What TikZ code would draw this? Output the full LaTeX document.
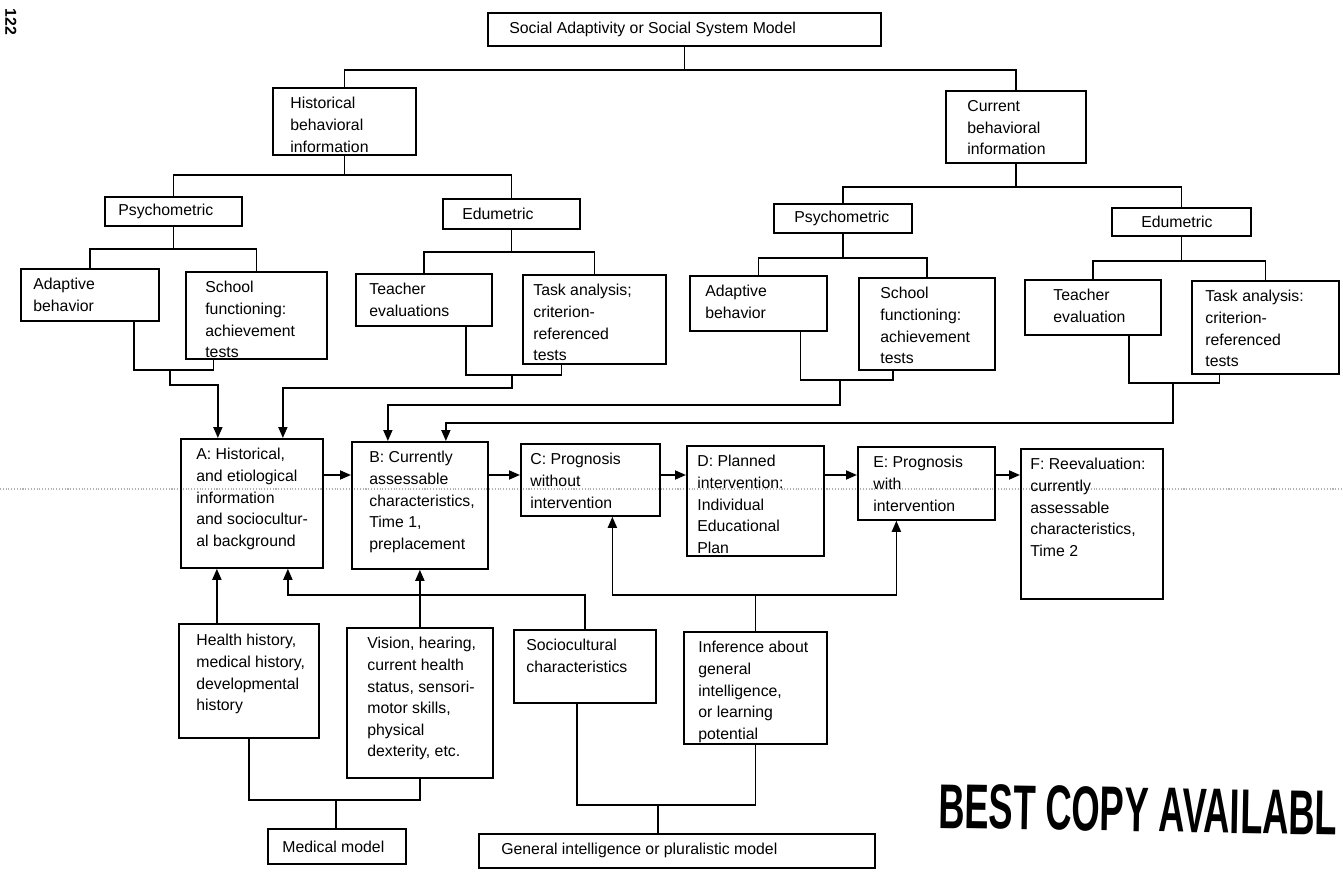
\documentclass[tikz,border=0pt]{standalone}
\usepackage{fontspec}
\setsansfont{Liberation Sans}
\usepackage{graphicx}
\usepackage{tikz}
\usetikzlibrary{arrows.meta,positioning,calc}
\tikzset{
  sabox/.style 2 args={draw=black, line width=1pt, anchor=north west, inner sep=0pt, minimum width=#1*0.02cm, minimum height=#2*0.02cm},
  satext/.style={anchor=north west, align=left, inner sep=0pt, font=\sffamily\fontsize{9}{12.3}\selectfont},
  saone/.style={anchor=west, inner sep=0pt, font=\sffamily\fontsize{9}{12.3}\selectfont},
  saline/.style={line width=1pt},
  saarrow/.style={-{Triangle[length=2.2mm,width=1.8mm]}, line width=1pt}
}

\begin{document}
\begin{tikzpicture}[x=0.02cm, y=-0.02cm]
  \useasboundingbox (0,0) rectangle (1343,879);

  % scan line across the page
  \draw[gray!60, densely dotted, line width=0.6pt] (0,489) -- (1343,489);

  % top of the tree
  \node[sabox={393}{33}] (model) at (487,12) {};
  \node[saone] (modelt) at ($(model.west)+(22,0)$) {Social Adaptivity or Social System Model};

  \node[sabox={143}{67}] (hist) at (272,87) {};
  \node[satext] (histt) at ($(hist.north west)+(18,10)$) {Historical\\behavioral\\information};
  \node[sabox={140}{72}] (curr) at (945,90) {};
  \node[satext] (currt) at ($(curr.north west)+(22,10)$) {Current\\behavioral\\information};

  \node[sabox={137}{29}] (hpsy) at (104,196) {};
  \node[saone] (hpsyt) at ($(hpsy.west)+(14,0)$) {Psychometric};
  \node[sabox={137}{30}] (hedu) at (442,198) {};
  \node[saone] (hedut) at ($(hedu.west)+(20,0)$) {Edumetric};
  \node[sabox={138}{29}] (cpsy) at (773,203) {};
  \node[saone] (cpsyt) at ($(cpsy.west)+(21,0)$) {Psychometric};
  \node[sabox={139}{28}] (cedu) at (1111,207) {};
  \node[saone] (cedut) at ($(cedu.west)+(30,0)$) {Edumetric};

  % leaves
  \node[sabox={138}{52}] (hadap) at (20,268) {};
  \node[satext] (hadapt) at ($(hadap.north west)+(13,10)$) {Adaptive\\behavior};
  \node[sabox={141}{87}] (hschool) at (185,271) {};
  \node[satext] (hschoolt) at ($(hschool.north west)+(20,10)$) {School\\functioning:\\achievement\\tests};
  \node[sabox={136}{52}] (hteach) at (355,273) {};
  \node[satext] (hteacht) at ($(hteach.north west)+(14,10)$) {Teacher\\evaluations};
  \node[sabox={143}{89}] (htask) at (522,274) {};
  \node[satext] (htaskt) at ($(htask.north west)+(11,10)$) {Task analysis;\\criterion-\\referenced\\tests};

  \node[sabox={137}{55}] (cadap) at (689,275) {};
  \node[satext] (cadapt) at ($(cadap.north west)+(16,10)$) {Adaptive\\behavior};
  \node[sabox={136}{92}] (cschool) at (858,277) {};
  \node[satext] (cschoolt) at ($(cschool.north west)+(22,10)$) {School\\functioning:\\achievement\\tests};
  \node[sabox={136}{55}] (cteach) at (1024,279) {};
  \node[satext] (cteacht) at ($(cteach.north west)+(29,10)$) {Teacher\\evaluation};
  \node[sabox={147}{93}] (ctask) at (1191,280) {};
  \node[satext] (ctaskt) at ($(ctask.north west)+(14,10)$) {Task analysis:\\criterion-\\referenced\\tests};

  % main chain
  \node[sabox={142}{129}] (boxA) at (180,438) {};
  \node[satext] (boxAt) at ($(boxA.north west)+(16,10)$) {A: Historical,\\and etiological\\information\\and sociocultur-\\al background};
  \node[sabox={136}{127}] (boxB) at (351,441) {};
  \node[satext] (boxBt) at ($(boxB.north west)+(18,10)$) {B: Currently\\assessable\\characteristics,\\Time 1,\\preplacement};
  \node[sabox={139}{72}] (boxC) at (520,443) {};
  \node[satext] (boxCt) at ($(boxC.north west)+(10,10)$) {C: Prognosis\\without\\intervention};
  \node[sabox={137}{110}] (boxD) at (686,445) {};
  \node[satext] (boxDt) at ($(boxD.north west)+(11,10)$) {D: Planned\\intervention:\\Individual\\Educational\\Plan};
  \node[sabox={137}{73}] (boxE) at (857,446) {};
  \node[satext] (boxEt) at ($(boxE.north west)+(16,10)$) {E: Prognosis\\with\\intervention};
  \node[sabox={142}{150}] (boxF) at (1020,448) {};
  \node[satext] (boxFt) at ($(boxF.north west)+(10,10)$) {F: Reevaluation:\\currently\\assessable\\characteristics,\\Time 2};

  % lower sources
  \node[sabox={140}{114}] (health) at (178,623) {};
  \node[satext] (healtht) at ($(health.north west)+(18,11)$) {Health history,\\medical history,\\developmental\\history};
  \node[sabox={146}{150}] (vision) at (346,627) {};
  \node[satext] (visiont) at ($(vision.north west)+(21,10)$) {Vision, hearing,\\current health\\status, sensori-\\motor skills,\\physical\\dexterity, etc.};
  \node[sabox={142}{73}] (socio) at (513,629) {};
  \node[satext] (sociot) at ($(socio.north west)+(13,10)$) {Sociocultural\\characteristics};
  \node[sabox={143}{112}] (infer) at (683,631) {};
  \node[satext] (infert) at ($(infer.north west)+(15,10)$) {Inference about\\general\\intelligence,\\or learning\\potential};

  \node[sabox={138}{35}] (medical) at (267,828) {};
  \node[saone] (medicalt) at ($(medical.west)+(15,0)$) {Medical model};
  \node[sabox={396}{34}] (general) at (478,833) {};
  \node[saone] (generalt) at ($(general.west)+(23,0)$) {General intelligence or pluralistic model};

  % tree connectors
  \draw[saline] (model.south) -- ++(0,23) -| (hist.north);
  \draw[saline] (model.south) -- ++(0,23) -| (curr.north);
  \draw[saline] (hist.south) -- ++(0,19) -| (hpsy.north);
  \draw[saline] (hist.south) -- ++(0,19) -| (hedu.north);
  \draw[saline] (curr.south) -- ++(0,23) -| (cpsy.north);
  \draw[saline] (curr.south) -- ++(0,23) -| (cedu.north);
  \draw[saline] (hpsy.south) -- ++(0,22) -| (hadap.north);
  \draw[saline] (hpsy.south) -- ++(0,22) -| (hschool.north);
  \draw[saline] (hedu.south) -- ++(0,22) -| (hteach.north);
  \draw[saline] (hedu.south) -- ++(0,22) -| (htask.north);
  \draw[saline] (cpsy.south) -- ++(0,24) -| (cadap.north);
  \draw[saline] (cpsy.south) -- ++(0,24) -| (cschool.north);
  \draw[saline] (cedu.south) -- ++(0,24) -| (cteach.north);
  \draw[saline] (cedu.south) -- ++(0,24) -| (ctask.north);

  % leaves into A and B
  \coordinate (hpsyj) at (170,370);
  \draw[saline] ($(hadap.south)+(44,0)$) |- (hpsyj) -| ($(hschool.south)+(-43,0)$);
  \draw[saarrow] (hpsyj) -- ++(0,15) -| ($(boxA.north)+(-34,0)$);
  \coordinate (heduj) at (512,375);
  \draw[saline] ($(hteach.south)+(42,0)$) |- (heduj) -| ($(htask.south)+(-33,0)$);
  \draw[saarrow] (heduj) -- ++(0,13) -| ($(boxA.north)+(31,0)$);
  \coordinate (cpsyj) at (840,380);
  \draw[saline] ($(cadap.south)+(42,0)$) |- (cpsyj) -| ($(cschool.south)+(-34,0)$);
  \draw[saarrow] (cpsyj) -- ++(0,25) -| ($(boxB.north)+(-32,0)$);
  \coordinate (ceduj) at (1173,383);
  \draw[saline] ($(cteach.south)+(36,0)$) |- (ceduj) -| ($(ctask.south)+(-46,0)$);
  \draw[saarrow] (ceduj) -- ++(0,40) -| ($(boxB.north)+(26,0)$);

  % chain arrows
  \coordinate (chain) at (0,475);
  \draw[saarrow] (boxA.east |- chain) -- (boxB.west |- chain);
  \draw[saarrow] (boxB.east |- chain) -- (boxC.west |- chain);
  \draw[saarrow] (boxC.east |- chain) -- (boxD.west |- chain);
  \draw[saarrow] (boxD.east |- chain) -- (boxE.west |- chain);
  \draw[saarrow] (boxE.east |- chain) -- (boxF.west |- chain);

  % lower sources into the chain
  \coordinate (hlth) at ($(health.north)+(-32,0)$);
  \draw[saarrow] (hlth) -- (hlth |- boxA.south);
  \draw[saarrow] (vision.north) -- (vision.north |- boxB.south);
  \draw[saarrow] (socio.north) -- ++(0,-34) -| ($(boxA.south)+(36,0)$);
  \draw[saarrow] (infer.north) -- ++(0,-36) -| ($(boxC.south)+(22,0)$);
  \draw[saarrow] (infer.north) -- ++(0,-36) -| ($(boxE.south)+(-30,0)$);

  % models at the bottom
  \coordinate (medj) at (336,800);
  \draw[saline] (health.south) |- (medj) -| (vision.south);
  \draw[saline] (medj) -- (medj |- medical.north);
  \coordinate (genj) at (658,805);
  \draw[saline] ($(socio.south)+(-8,0)$) |- (genj) -| (infer.south);
  \draw[saline] (genj) -- (genj |- general.north);

  % page number and stamp
  \node[font=\sffamily\bfseries\fontsize{9}{9}\selectfont, rotate=-90] (pageno) at (11,22) {122};
  \node[anchor=base west, inner sep=0pt, rotate=-1] (stamp) at (938,828)
    {\scalebox{0.575}[1]{\fontsize{36}{36}\selectfont\sffamily\bfseries BEST COPY AVAILABL}};
\end{tikzpicture}
\end{document}
